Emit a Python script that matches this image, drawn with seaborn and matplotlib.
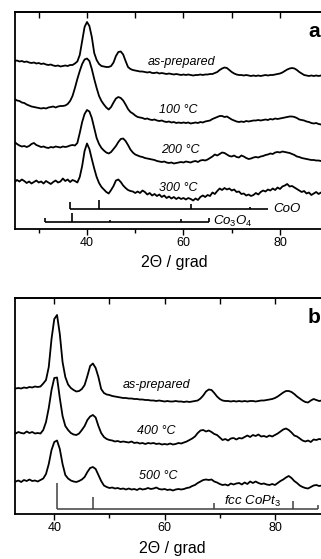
import numpy as np
import matplotlib
matplotlib.use('Agg')
import matplotlib.pyplot as plt
import seaborn as sns

# 2-theta grids (degrees)
two_theta_a = np.arange(25.0, 89.01, 0.5)
two_theta_b = np.arange(33.0, 89.01, 0.5)

# panel a: CoPt3 heated in air (offset intensities, arb. units)
a_as_prepared = [
    168, 168.5, 167.5, 168, 167, 167.5, 166.5, 166, 166.5, 165.5,
    166, 165, 165.5, 164.5, 164, 164.5, 163.5, 163, 163.5, 162.5,
    163, 163.5, 163, 164, 164, 165.5, 167.5, 174, 188, 202,
    207, 203, 192, 176, 169, 165, 163, 162.5, 162, 162,
    163, 166.5, 173, 177, 177.5, 174.5, 168, 162, 160, 159,
    158.5, 158, 157.5, 157.5, 157, 156.5, 157, 156, 156, 156.5,
    155.5, 156, 155.5, 155, 155.5, 155, 154.5, 155, 154.5, 154,
    154.5, 154, 154.5, 154, 153.5, 154, 154, 154.5, 154, 154.5,
    154.5, 155, 155, 156, 157, 159, 160.5, 161.5, 161, 159,
    157, 155.5, 154.5, 154, 154, 153.5, 154, 153.5, 153, 153.5,
    153, 153.5, 153, 153.5, 154, 153.5, 154, 154, 154.5, 155,
    155.5, 156.5, 158, 159.5, 160.5, 161, 160.5, 159, 157, 155.5,
    154, 153.5, 153, 153.5, 153, 153.5, 153, 153.5, 153,
]
a_100 = [
    130, 128.5, 128, 126.5, 126, 124.5, 123.5, 122.5, 122, 121.5,
    121, 120.5, 121, 120.5, 121.5, 122, 122.5, 121.5, 122.5, 123,
    123, 123.5, 125, 128, 133, 141, 150, 158, 165, 169.5,
    170.5, 168, 160, 150, 141, 133, 128, 124.5, 121.5, 119.5,
    122, 126.5, 130.5, 132, 131, 128.5, 124.5, 120, 117, 115.5,
    113.5, 112, 111.5, 111, 110, 110.5, 109.5, 109, 109.5, 108.5,
    108, 108.5, 107.5, 107, 107.5, 106.5, 107, 106, 106.5, 106,
    106.5, 106, 106.5, 105.5, 106, 106.5, 106, 107, 106.5, 107.5,
    108, 108.5, 110, 111, 112, 113, 113, 112, 112.5, 111,
    109.5, 108.5, 107.5, 107, 107.5, 107, 108, 107.5, 108, 108.5,
    108.5, 109, 108.5, 109, 109.5, 109, 110, 109.5, 110.5, 110,
    110.5, 111, 111.5, 112, 112.5, 112.5, 112, 111, 109.5, 109,
    108.5, 107.5, 107, 106, 105.5, 106, 105, 104.5, 105,
]
a_200 = [
    87, 85, 83.5, 82.5, 83, 82, 83, 85, 86, 84,
    83, 82, 82.5, 81.5, 81, 82, 81.5, 82.5, 82, 81.5,
    82.5, 82, 82.5, 83.5, 84, 83.5, 86, 96, 107, 115,
    119, 117.5, 111, 101, 91, 85, 81, 78.5, 76.5, 75.5,
    77, 80, 83, 87, 90, 90.5, 88, 84, 79.5, 76.5,
    74.5, 73.5, 72.5, 72, 71, 70.5, 70, 69.5, 69, 68,
    67.5, 67, 67.5, 66.5, 66, 66.5, 65.5, 66, 66.5, 67,
    66.5, 67.5, 67, 66.5, 67.5, 68, 67, 68.5, 69, 68.5,
    69.5, 71, 72.5, 74.5, 73.5, 75, 76.5, 76, 74.5, 73,
    72.5, 73.5, 72, 71.5, 73.5, 72.5, 71, 70, 70.5, 71.5,
    72, 71.5, 72.5, 73, 74, 74.5, 75.5, 75, 76.5, 77,
    76.5, 77.5, 77, 76.5, 76, 75, 74, 72.5, 72, 71,
    70.5, 70, 69.5, 69, 69, 68.5, 68.5, 68, 68.5,
]
a_300 = [
    47, 49, 47.5, 49.5, 48, 46, 47.5, 45.5, 47, 48.5,
    46.5, 47.5, 45.5, 48, 46.5, 45, 47, 48.5, 46.5, 47.5,
    50.5, 48, 49.5, 47, 49, 48, 46.5, 52, 63, 78,
    85.5, 80, 70, 60.5, 52, 46, 42, 39.5, 37, 35.5,
    39, 43, 48.5, 49.5, 47, 43.5, 41, 39, 38, 37.5,
    36, 37.5, 36, 38.5, 37, 34.5, 36, 33.5, 35, 33,
    34.5, 32, 33.5, 31, 32.5, 30.5, 32, 30, 31.5, 30,
    31, 29.5, 31, 30, 28.5, 30.5, 29, 32, 33.5, 32,
    34, 33, 36.5, 35, 38, 40.5, 39, 41, 39.5, 40.5,
    38.5, 39.5, 37, 37.5, 35, 35.5, 33.5, 34.5, 33, 34,
    36, 34.5, 37, 38.5, 37.5, 39.5, 38.5, 40.5, 39, 41.5,
    40, 42.5, 43.5, 45, 42.5, 43, 41.5, 40, 38.5, 37,
    38, 35.5, 36.5, 34, 35.5, 37, 35, 36.5, 35,
]

# panel b: CoPt3 heated under vacuum
b_as_prepared = [
    125.5, 126, 125.5, 126.5, 126, 127, 126.5, 127.5, 127, 127.5,
    130.5, 134, 147, 175, 195, 199, 180, 152, 137, 129.5,
    126, 124, 122.5, 123, 125, 129, 138, 148, 150.5, 146,
    137, 125, 121, 119.5, 119, 118, 117.5, 117, 116.5, 116,
    116, 115.5, 115.5, 115, 115, 114.5, 114.5, 114, 114, 113.5,
    113.5, 113, 113.5, 113, 112.5, 113, 112.5, 112.5, 113, 112.5,
    112.5, 112, 112.5, 112, 112.5, 113, 113.5, 115.5, 118.5, 122.5,
    124.5, 124, 121, 117.5, 115, 113.5, 113, 113, 112.5, 113,
    112.5, 113, 112.5, 113, 112.5, 113, 113, 112.5, 113, 113.5,
    113.5, 114, 114.5, 115, 116, 117.5, 119.5, 121.5, 123, 123,
    122, 120, 117.5, 115.5, 113.5, 112, 111.5, 113.5, 115, 114,
    113, 113.5, 113,
]
b_400 = [
    80.5, 82, 81, 80.5, 82.5, 81, 82, 80.5, 81, 80.5,
    84, 92, 106, 124, 136, 136.5, 116, 98, 88, 84,
    81, 79.5, 79, 80.5, 84, 88, 94, 97.5, 99, 96.5,
    88, 81, 77, 75, 74, 73.5, 72.5, 73, 72, 72.5,
    72, 71.5, 72.5, 71, 71.5, 70.5, 71, 70, 71, 70.5,
    71, 70, 70.5, 69.5, 70, 69.5, 70.5, 69.5, 70, 71,
    70.5, 71.5, 72.5, 74, 75.5, 77.5, 81, 83.5, 84, 82.5,
    83.5, 82, 80, 79, 76.5, 74, 75, 73.5, 75.5, 76,
    74.5, 76, 75.5, 77, 78.5, 77, 79, 78, 79.5, 77.5,
    78, 77, 78.5, 77.5, 79, 80.5, 82.5, 84.5, 85.5, 84,
    81.5, 78.5, 77.5, 75.5, 73.5, 72.5, 73.5, 72, 74.5, 74,
    75, 74.5, 74,
]
b_500 = [
    32.5, 33.5, 32, 34, 33, 34.5, 33, 33.5, 32.5, 34,
    35.5, 40, 50, 64, 72, 73.5, 65, 50, 39, 35.5,
    33.5, 32.5, 32, 33, 34.5, 37, 42, 46, 47, 45,
    39, 33, 28.5, 27, 26, 26.5, 25.5, 26, 25, 25.5,
    24.5, 25.5, 24.5, 25, 24, 25.5, 24.5, 25, 26, 25,
    25.5, 26.5, 25, 24.5, 25, 24, 24.5, 23.5, 24.5, 25,
    24.5, 25, 26, 26.5, 28, 29, 31, 32.5, 34, 34.5,
    34, 34.5, 32.5, 31.5, 30, 29, 29.5, 28.5, 30.5, 29.5,
    30.5, 31, 29.5, 31.5, 30, 32.5, 31, 32.5, 31, 30,
    30.5, 29.5, 29, 30, 29, 31, 33, 34.5, 36.5, 38,
    36, 33, 31, 28.5, 27, 26, 25.5, 27, 28.5, 29,
    28, 28.5, 28,
]

# reference reflections (position, stick height)
coo_pos = [36.5, 42.4, 61.5, 73.7, 77.5]
coo_h = [7, 9.5, 5.5, 2, 0]
co3o4_pos = [31.3, 36.85, 44.8, 59.4, 65.2]
co3o4_h = [4, 9, 2, 3, 4]
copt3_pos = [40.5, 47.1, 69.0, 83.2, 87.8]
copt3_h = [26, 12.5, 6, 8, 4]

labels_a = ['as-prepared', '100 °C', '200 °C', '300 °C']
labels_b = ['as-prepared', '400 °C', '500 °C']

sns.set_style('ticks')
plt.rcParams['font.family'] = ['Liberation Sans', 'DejaVu Sans']
plt.rcParams['text.color'] = 'black'
plt.rcParams['xtick.color'] = 'black'
plt.rcParams['xtick.labelcolor'] = 'black'
plt.rcParams['mathtext.fontset'] = 'custom'
plt.rcParams['mathtext.rm'] = 'Liberation Sans'
plt.rcParams['mathtext.it'] = 'Liberation Sans:italic'

W, H = 321, 559
fig = plt.figure(figsize=(W / 100, H / 100), dpi=100)
ax_a = fig.add_axes([15 / W, 1 - 229 / H, 310 / W, 217 / H])
ax_b = fig.add_axes([15 / W, 1 - 514 / H, 310 / W, 216 / H])


def style_axis(ax, xlim, ylim, minors):
    ax.set_xlim(*xlim)
    ax.set_ylim(*ylim)
    ax.set_yticks([])
    ax.set_xticks([40, 60, 80])
    ax.set_xticks(minors, minor=True)
    ax.tick_params(axis='x', which='major', direction='out', length=4,
                   width=1, labelsize=9, pad=2, color='black')
    ax.tick_params(axis='x', which='minor', direction='out', length=3,
                   width=1, color='black')
    for s in ax.spines.values():
        s.set_linewidth(1.3)
        s.set_color('black')
    ax.set_xlabel('')
    ax.set_ylabel('')
    top = ax.secondary_xaxis('top')
    top.set_xticks([30, 40, 50, 60, 70, 80])
    top.tick_params(direction='in', length=4, width=1, labeltop=False,
                    color='black')
    top.spines['top'].set_linewidth(1.3)


curves_a = [a_as_prepared, a_100, a_200, a_300]
for yv in curves_a:
    sns.lineplot(x=two_theta_a, y=yv, ax=ax_a, color='black', lw=1.3)
style_axis(ax_a, (25.08, 89.33), (0, 217), [30, 50, 70])

label_pos_a = [(59.6, 167), (58.9, 119), (59.4, 79), (58.9, 41)]
for txt, (xx, yy) in zip(labels_a, label_pos_a):
    ax_a.text(xx, yy, txt, style='italic', fontsize=9, ha='center', va='center')

# CoO and Co3O4 reference bars
ax_a.hlines(19.7, coo_pos[0], coo_pos[-1], color='black', lw=1.2)
ax_a.vlines(coo_pos, 19.7, [19.7 + h for h in coo_h], color='black', lw=1.2)
ax_a.text(78.6, 19.7, 'CoO', style='italic', fontsize=9.5, va='center')
ax_a.hlines(7.3, co3o4_pos[0], co3o4_pos[-1], color='black', lw=1.2)
ax_a.vlines(co3o4_pos, 7.3, [7.3 + h for h in co3o4_h], color='black', lw=1.2)
ax_a.text(66.1, 7.3, r'$Co_3O_4$', fontsize=9.5, va='center')
ax_a.text(0.965, 0.885, 'a', transform=ax_a.transAxes, fontsize=15,
          fontweight='bold', ha='center', va='baseline')

curves_b = [b_as_prepared, b_400, b_500]
for yv in curves_b:
    sns.lineplot(x=two_theta_b, y=yv, ax=ax_b, color='black', lw=1.3)
style_axis(ax_b, (32.88, 89.07), (0, 216), [50, 70])

label_pos_b = [(58.5, 129), (58.5, 83), (58.9, 38)]
for txt, (xx, yy) in zip(labels_b, label_pos_b):
    ax_b.text(xx, yy, txt, style='italic', fontsize=9, ha='center', va='center')

ax_b.hlines(4.7, copt3_pos[0], copt3_pos[-1], color='#404040', lw=1.1)
ax_b.vlines(copt3_pos, 4.7, [4.7 + h for h in copt3_h], color='#404040', lw=1.1)
ax_b.text(76.0, 13, r'$fcc\ CoPt_3$', fontsize=9.5, ha='center', va='center')
ax_b.text(0.965, 0.885, 'b', transform=ax_b.transAxes, fontsize=15,
          fontweight='bold', ha='center', va='baseline')

fig.text(174 / W, 1 - 262 / H, '2Θ / grad', fontsize=11.5, ha='center', va='center')
fig.text(172 / W, 1 - 549 / H, '2Θ / grad', fontsize=11.5, ha='center', va='center')

fig.savefig('out.png', dpi=100)
